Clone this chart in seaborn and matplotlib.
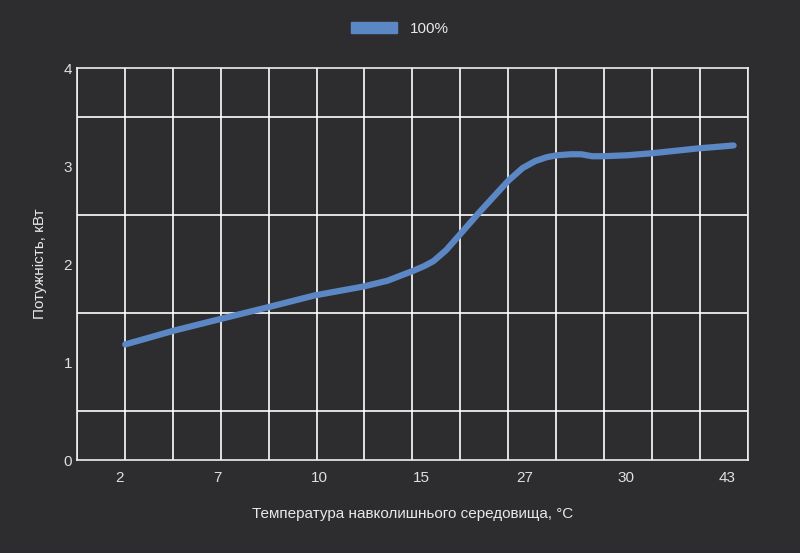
import numpy as np
import pandas as pd
import seaborn as sns
import matplotlib.pyplot as plt
from matplotlib.patches import Patch

# curve, x in grid-cell units
curve_x = [1.01, 2.02, 3.0, 3.99, 4.96, 5.97, 6.48, 7.01, 7.25, 7.44, 7.7, 7.97, 8.4, 9.0,
           9.3, 9.56, 9.8, 10.02, 10.3, 10.52, 10.75, 10.98, 11.48, 11.99, 12.96, 13.7]
curve_y = [1.18, 1.32, 1.44, 1.56, 1.68, 1.77, 1.83, 1.93, 1.98, 2.03, 2.14, 2.29, 2.53, 2.85,
           2.98, 3.05, 3.09, 3.11, 3.12, 3.12, 3.10, 3.10, 3.11, 3.13, 3.18, 3.21]
tick_labels = ["2", "7", "10", "15", "27", "30", "43"]
tick_pos = [0.9, 2.94, 5.06, 7.19, 9.35, 11.46, 13.56]

bg = "#2d2c2e"
line_color = "#5b87c5"
sns.set_style("dark")
plt.rcParams['font.family'] = ['Liberation Sans', 'DejaVu Sans']

fig = plt.figure(figsize=(8, 5.53), dpi=100, facecolor=bg)
ax = fig.add_axes([0.096, 0.168, 0.839, 0.709])
ax.set_facecolor(bg)

df = pd.DataFrame({"x": curve_x, "y": curve_y})
sns.lineplot(data=df, x="x", y="y", ax=ax, color=line_color, lw=4.5, legend=False)
ax.lines[0].set_solid_joinstyle("round")
ax.lines[0].set_solid_capstyle("round")

ax.set_xlim(0, 14)
ax.set_ylim(0, 4)
ax.set_xticks(np.arange(0, 15), minor=True)
ax.set_yticks(np.arange(0, 4.01, 0.5), minor=True)
ax.set_xticks(tick_pos)
ax.set_xticklabels(tick_labels)
ax.set_yticks([0, 1, 2, 3, 4])
ax.grid(True, which="minor", color="white", lw=1.2)
ax.grid(False, which="major")
ax.tick_params(which="both", length=0, colors="#e0e0e0", labelsize=11)
ax.tick_params(axis="x", pad=8)
for s in ["top", "right", "left", "bottom"]:
    ax.spines[s].set_visible(True)
    ax.spines[s].set_color("#eeeeee")
    ax.spines[s].set_linewidth(1.2)

ax.set_xlabel("Температура навколишнього середовища, °C", color="#e8e8e8", fontsize=11, labelpad=16)
ax.set_ylabel("Потужність, кВт", color="#e8e8e8", fontsize=11, labelpad=12)

fig.legend(handles=[Patch(color=line_color, label="100%")], loc="upper center",
           bbox_to_anchor=(0.5, 0.985), frameon=False, labelcolor="#e8e8e8",
           fontsize=11, handlelength=3.0, handleheight=0.7)

fig.savefig("out.png", dpi=100, facecolor=bg)
